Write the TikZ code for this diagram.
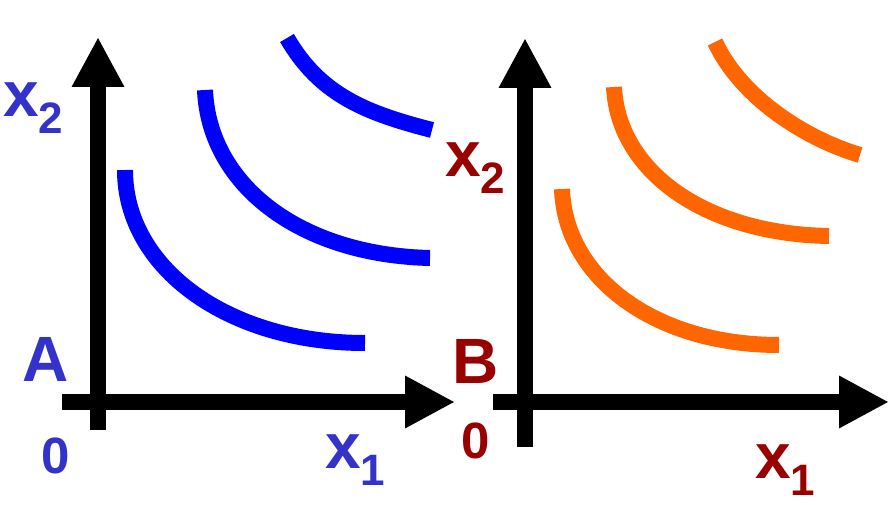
\documentclass[tikz,border=0pt]{standalone}
\usepackage{fontspec}
\setmainfont{Liberation Sans}
\usetikzlibrary{arrows.meta}
\definecolor{labblue}{HTML}{3333CC}
\definecolor{labred}{HTML}{990000}
\definecolor{curveblue}{HTML}{0000FF}
\definecolor{curveorange}{HTML}{FF6600}
\newcommand{\subidx}[1]{\raisebox{-17pt}{\fontsize{44}{44}\selectfont #1}}
\tikzset{
  axis/.style={line width=16pt, -{Triangle[length=50pt,width=49pt]}},
  indiff/.style={line width=16pt},
  lab/.style={font=\fontsize{64}{64}\selectfont\bfseries, inner sep=0pt, anchor=base west},
  zerolab/.style={font=\fontsize{51}{51}\selectfont\bfseries, inner sep=0pt, anchor=base west}
}

\begin{document}
\begin{tikzpicture}[x=1pt,y=-1pt]
    \useasboundingbox (0,0) rectangle (891,505);
    \coordinate (ybotA) at (98,430);
    \coordinate (ytopA) at (98,37);
    \coordinate (xlftA) at (62,402);
    \coordinate (xrgtA) at (455,402);
    \coordinate (ybotB) at (525,447);
    \coordinate (ytopB) at (525,38);
    \coordinate (xlftB) at (493,402);
    \coordinate (xrgtB) at (889,402);
    \draw[axis] (ybotA) -- (ytopA);
    \draw[axis] (xlftA) -- (xrgtA);
    \draw[axis] (ybotB) -- (ytopB);
    \draw[axis] (xlftB) -- (xrgtB);
    \draw[indiff, curveblue] (125,170) .. controls (125,268) and (228,343) .. (365,343);
    \draw[indiff, curveblue] (205,90) .. controls (209,185) and (300,255) .. (430,258);
    \draw[indiff, curveblue] (287,38) .. controls (320,95) and (366,113) .. (432,130);
    \draw[indiff, curveorange] (562,189) .. controls (565,278) and (655,345) .. (779,345);
    \draw[indiff, curveorange] (614,87) .. controls (618,172) and (706,234) .. (829,236);
    \draw[indiff, curveorange] (715,42) .. controls (740,96) and (803,138) .. (860,155);
    \node[lab, labblue] (xtwoA) at (3,117) {x\subidx{2}};
    \node[lab, labblue] (xoneA) at (325,468) {x\subidx{1}};
    \node[lab, labblue] (nameA) at (22,381) {A};
    \node[zerolab, labblue] (zeroA) at (41,473) {0};
    \node[lab, labred] (xtwoB) at (445,177) {x\subidx{2}};
    \node[lab, labred] (xoneB) at (755,478) {x\subidx{1}};
    \node[lab, labred] (nameB) at (452,383) {B};
    \node[zerolab, labred] (zeroB) at (461,458) {0};
\end{tikzpicture}
\end{document}
